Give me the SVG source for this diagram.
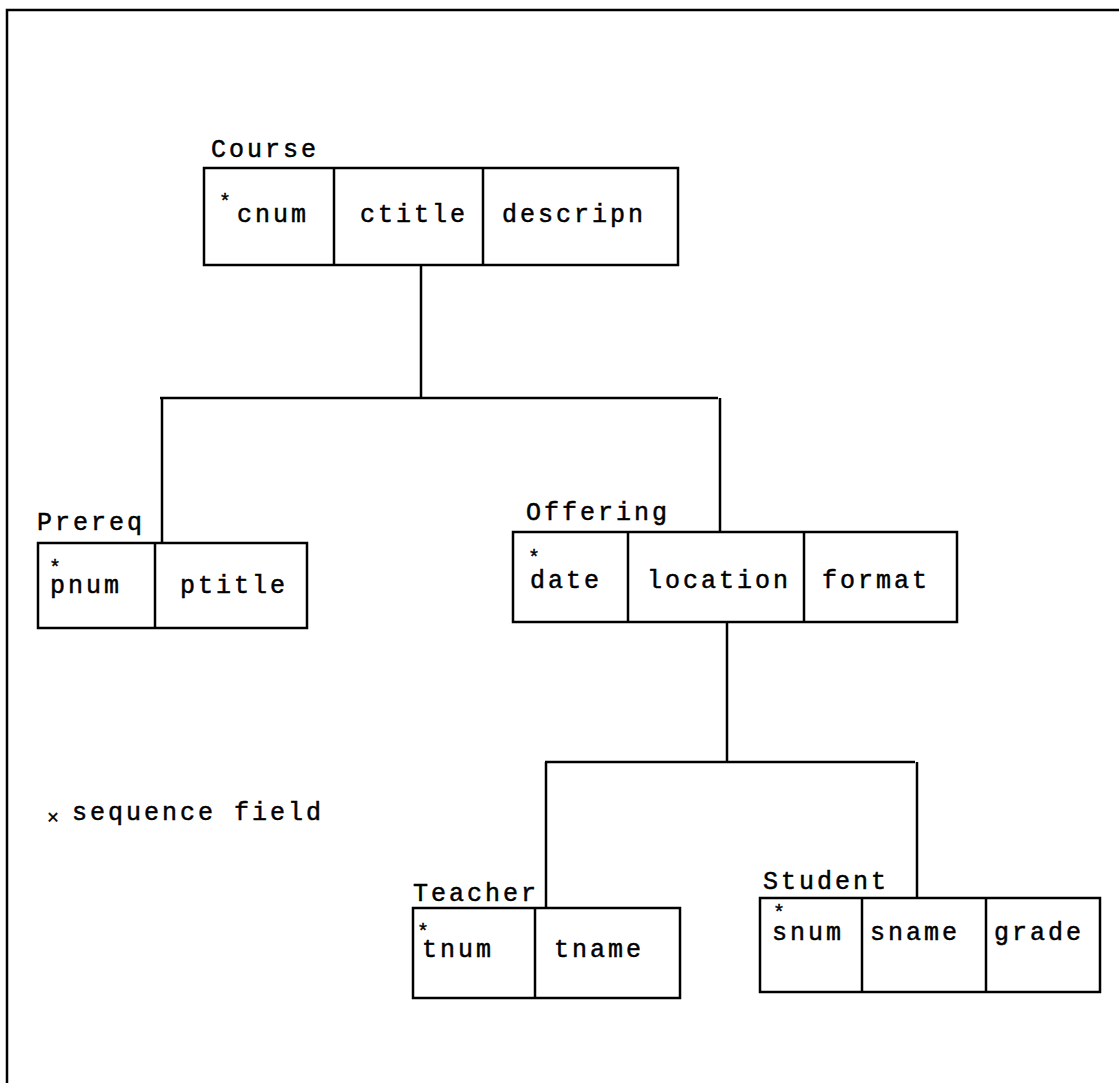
<svg xmlns="http://www.w3.org/2000/svg" width="1119" height="1083" viewBox="0 0 1119 1083">
<style>
  .ln { stroke: #000; stroke-width: 2.5; fill: none; }
  .box { stroke: #000; stroke-width: 2.5; fill: #fff; }
  .t { font-family: "Liberation Mono", "DejaVu Sans Mono", monospace; font-size: 25px; letter-spacing: 3px; fill: #000; stroke: #000; stroke-width: 0.5; }
  .s { font-family: "Liberation Mono", "DejaVu Sans Mono", monospace; font-size: 20px; fill: #000; stroke: #000; stroke-width: 0.4; }
  .st { font-size: 20px; letter-spacing: 0; stroke-width: 0.4; }
</style>
<rect width="1119" height="1083" fill="#fff"/>
<g id="frame">
  <path class="ln" d="M7,1083 L7,10 L1119,10" stroke-width="3"/>
</g>
<g id="connectors">
  <path class="ln" d="M421,265 L421,398 M160,398 L718,398 M162,398 L162,543 M720,398 L720,532"/>
  <path class="ln" d="M727,622 L727,762 M545,762 L915,762 M546,762 L546,908 M917,762 L917,898"/>
</g>
<g id="course">
  <text class="t" x="211" y="157">Course</text>
  <rect class="box" x="204" y="168" width="474" height="97"/>
  <path class="ln" d="M334,168 L334,265 M483,168 L483,265"/>
  <text class="t"><tspan class="st" x="219" y="208">*</tspan><tspan x="237" y="222">cnum</tspan></text>
  <text class="t" x="360" y="222">ctitle</text>
  <text class="t" x="502" y="222">descripn</text>
</g>
<g id="prereq">
  <text class="t" x="37" y="530">Prereq</text>
  <rect class="box" x="38" y="543" width="269" height="85"/>
  <path class="ln" d="M155,543 L155,628"/>
  <text class="t"><tspan class="st" x="49" y="574">*</tspan><tspan x="50" y="593">pnum</tspan></text>
  <text class="t" x="180" y="593">ptitle</text>
</g>
<g id="offering">
  <text class="t" x="526" y="520">Offering</text>
  <rect class="box" x="513" y="532" width="444" height="90"/>
  <path class="ln" d="M628,532 L628,622 M804,532 L804,622"/>
  <text class="t"><tspan class="st" x="528" y="564">*</tspan><tspan x="530" y="588">date</tspan></text>
  <text class="t" x="647" y="588">location</text>
  <text class="t" x="822" y="588">format</text>
</g>
<g id="teacher">
  <text class="t" x="413" y="901">Teacher</text>
  <rect class="box" x="413" y="908" width="267" height="90"/>
  <path class="ln" d="M535,908 L535,998"/>
  <text class="t"><tspan class="st" x="417" y="938">*</tspan><tspan x="422" y="957">tnum</tspan></text>
  <text class="t" x="554" y="957">tname</text>
</g>
<g id="student">
  <text class="t" x="763" y="889">Student</text>
  <rect class="box" x="760" y="898" width="340" height="94"/>
  <path class="ln" d="M862,898 L862,992 M986,898 L986,992"/>
  <text class="t"><tspan class="st" x="773" y="919">*</tspan><tspan x="772" y="940">snum</tspan></text>
  <text class="t" x="870" y="940">sname</text>
  <text class="t" x="994" y="940">grade</text>
</g>
<g id="legend">
  <text class="s" x="47" y="824">×</text>
  <text class="t" x="72" y="820">sequence field</text>
</g>
</svg>
